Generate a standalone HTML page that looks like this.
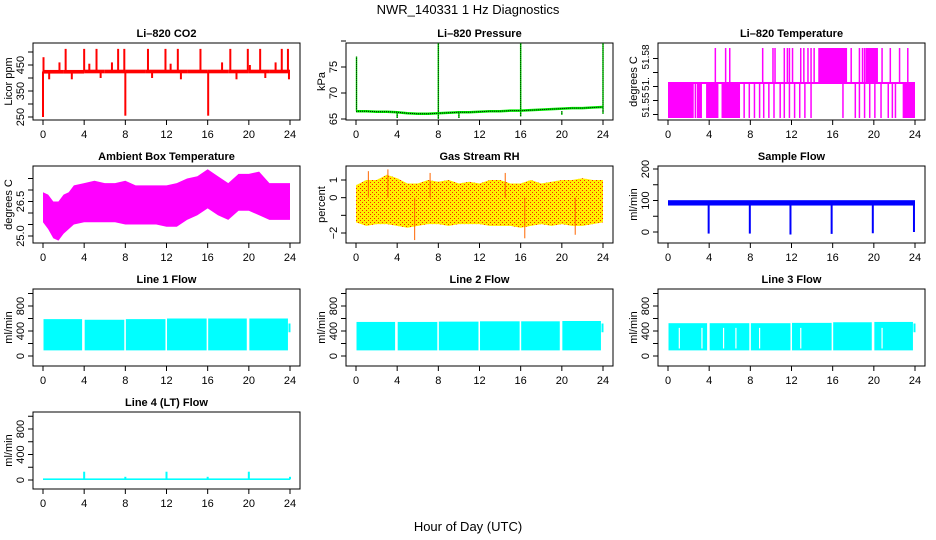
<!DOCTYPE html>
<html><head><meta charset="utf-8">
<style>
html,body{margin:0;padding:0;background:#fff;}
svg{display:block;font-family:"Liberation Sans",sans-serif;}
</style></head>
<body>
<svg id="chart" width="936" height="540" viewBox="0 0 936 540" xmlns="http://www.w3.org/2000/svg">
<defs>
<pattern id="rhdots" width="4" height="4" patternUnits="userSpaceOnUse">
<rect x="0" y="0" width="1" height="1" fill="#ff2200"/><rect x="2" y="2" width="1" height="1" fill="#ff2200"/>
</pattern>
</defs>
<text x="468" y="14" text-anchor="middle" font-size="13">NWR_140331 1 Hz Diagnostics</text>
<text x="468" y="531" text-anchor="middle" font-size="13">Hour of Day (UTC)</text>
</svg>
<script>
// ---------- data ----------
const xTicks = [0,4,8,12,16,20,24];
// CO2
const co2BaseLo = [417,417,418,418,418,418,418,418,418,418,418,418,418];
const co2BaseHi = [431,431,432,432,432,432,432,432,432,432,432,432,432];
const co2SpikeHours = [0.05,0.0,2.2,4.0,5.2,7.3,7.9,10.2,11.9,13.1,15.3,18.2,19.9,21.1,23.2,23.8,8.0,16.05,1.6,4.5,6.7,12.4,17.4,20.1,22.6,0.6,2.8,5.6,10.6,13.4,18.8,21.6,23.9];
const co2SpikeVals  = [480,250,512,512,512,512,512,512,512,512,512,512,512,512,512,512,255,255,460,455,460,455,460,450,460,395,395,400,400,395,395,400,395];
// Pressure
const pressHours = [0,0.05,1,2,3,4,4.5,5,6,7,8,9,10,11,12,13,14,15,16,17,18,19,20,21,22,23,24];
const pressVals  = [66.5,66.5,66.5,66.4,66.4,66.3,66.2,66.1,66.0,66.0,66.1,66.2,66.3,66.3,66.4,66.5,66.5,66.6,66.6,66.7,66.8,66.9,67.0,67.1,67.1,67.2,67.3];
const pressSpikeHours = [0.05,8.0,16.0,24.0,4.0,8.0,10.0,16.0,20.0,24.0];
const pressSpikeVals  = [77,80,80.5,81,65.2,65.0,65.2,65.5,65.8,66.0];
// Li-820 temperature
const tempLevels = [51.5375,51.5625,51.5875];
const tempLowIntervals = [[0,2.5],[2.8,3.3],[3.7,4.9],[5.2,7.0],[22.8,24]];
const tempLowLines = [2.66,7.4,7.9,8.4,8.9,9.3,9.8,10.3,10.9,11.3,11.8,12.3,12.8,13.3,13.9,17.0,18.2,18.6,19.1,19.6,20.1,20.7,21.4,21.8,22.1];
const tempHighIntervals = [[14.6,17.4],[19.2,20.4]];
const tempHighLines = [4.6,5.6,6.0,9.2,10.2,10.4,11.3,11.6,11.8,12.1,12.9,13.2,13.6,13.9,14.2,17.8,18.6,18.9,19.1,20.8,21.6,22.5,23.3];
// Ambient box temperature (hourly envelope)
const ambHours = [0,0.5,1,1.5,2,2.5,3,4,5,6,7,8,9,10,11,12,13,14,15,16,17,18,19,20,21,22,23,24];
const ambHi = [26.9,26.8,26.5,26.5,26.8,26.9,27.2,27.3,27.4,27.3,27.3,27.4,27.2,27.2,27.2,27.2,27.3,27.5,27.6,27.9,27.6,27.3,27.7,27.7,27.8,27.3,27.3,27.3];
const ambLo = [25.6,25.3,24.9,24.8,25.1,25.3,25.5,25.6,25.6,25.6,25.6,25.5,25.5,25.5,25.5,25.4,25.4,25.7,25.9,26.2,25.9,25.7,26.1,26.1,25.9,25.7,25.7,25.7];
// Gas stream RH (hourly envelope)
const rhHours = [0,1,2,3,4,5,6,7,8,9,10,11,12,13,14,15,16,17,18,19,20,21,22,23,24];
const rhHi = [0.7,1.0,1.0,1.3,1.1,0.8,0.8,1.0,0.9,1.0,0.8,0.9,0.8,1.0,1.0,0.8,0.8,1.0,0.8,0.9,1.0,1.0,1.1,1.0,1.0];
const rhLo = [-1.4,-1.6,-1.5,-1.5,-1.6,-1.7,-1.6,-1.5,-1.5,-1.6,-1.5,-1.5,-1.5,-1.6,-1.6,-1.6,-1.7,-1.6,-1.5,-1.6,-1.5,-1.6,-1.6,-1.5,-1.4];
const rhSpikeHours = [1.2,3.1,5.7,7.2,14.5,16.4,21.3];
const rhSpikeVals = [1.5,1.6,-2.4,1.4,1.4,-2.3,-2.1];
// Sample flow
const sampleLo = 84, sampleHi = 101;
const sampleDropHours = [3.95,7.95,11.9,15.9,19.9,23.9];
const sampleDropVals = [-5,-5,-8,-6,-4,0];
// Line flows (4-hour blocks)
const blockStarts = [0,4,8,12,16,20];
const blockEnds   = [3.8,7.9,11.9,15.9,19.8,23.8];
const line1Hi = [590,580,590,600,600,600];
const line2Hi = [545,545,550,555,555,560];
const line3Hi = [525,525,525,530,540,545];
const linesLo = [90,90,90,90,90,90];
const line3Gaps = [1.1,3.3,5.4,6.6,8.9,12.9,20.8];
const line4Base = [0,25];
const line4SpikeHours = [4.0,8.0,12.0,16.0,20.0,24.0];
const line4SpikeVals = [130,50,130,50,130,50];

// ---------- helpers ----------
const NS = "http://www.w3.org/2000/svg";
const svg = document.getElementById('chart');
function mk(tag, attrs, parent){
  const e = document.createElementNS(NS, tag);
  for (const k in attrs) e.setAttribute(k, attrs[k]);
  (parent||svg).appendChild(e);
  return e;
}
const COLS=[33,346,658], ROWS=[43,166,289,412], W=267, H=77;
let clipN=0;
function panel(c,r,key,title,ylab,a,pa,b,pb,ticks,labels,lfs){
  const L=COLS[c], T=ROWS[r];
  const sx = h => L+10 + h/24*247;
  const sy = v => T + pa + (v-a)*(pb-pa)/(b-a);
  const g = mk('g',{});
  
  
  const cid='clip'+(clipN++);
  const cp = mk('clipPath',{id:cid},g);
  mk('rect',{x:L,y:T,width:W,height:H},cp);
  const plot = mk('g',{'clip-path':'url(#'+cid+')'},g);
  
  
  const t = mk('text',{x:L+W/2,y:T-6,'text-anchor':'middle','font-size':11,'font-weight':'bold'},g);
  t.textContent = title;
  
  
  const yl = mk('text',{x:L-21,y:T+H/2,'text-anchor':'middle','font-size':11,transform:'rotate(-90 '+(L-21)+' '+(T+H/2)+')'},g);
  yl.textContent = ylab;
  
  
  xTicks.forEach(h=>{
    const tk = mk('line',{x1:sx(h),x2:sx(h),y1:T+H,y2:T+H+5,stroke:'#000'},g);
    
    
    const lb = mk('text',{x:sx(h),y:T+H+18,'text-anchor':'middle','font-size':11},g);
    lb.textContent = h;
    
    
  });
  ticks.forEach(v=>{
    const tk = mk('line',{x1:L-5,x2:L,y1:sy(v),y2:sy(v),stroke:'#000'},g);
    
    
  });
  labels.forEach(lab=>{
    const v = lab[0], txt = lab[1];
    const py = lab.length>2 ? lab[2] : sy(v);
    const lb = mk('text',{x:L-9,y:py,'text-anchor':'middle','font-size':lfs||11,transform:'rotate(-90 '+(L-9)+' '+py+')'},g);
    lb.textContent = txt;
    
    
  });
  const box = mk('rect',{x:L,y:T,width:W,height:H,fill:'none',stroke:'#000'},g);
  
  
  return {sx,sy,plot,L,T};
}
function vline(p,x,y1,y2,color,w,name){
  const e = mk('line',{x1:x,x2:x,y1:y1,y2:y2,stroke:color,'stroke-width':w},p);
  
  
  return e;
}
function band(p,x1,x2,y1,y2,color,name){
  const e = mk('rect',{x:Math.min(x1,x2),y:Math.min(y1,y2),width:Math.abs(x2-x1),height:Math.max(1,Math.abs(y2-y1)),fill:color},p);
  
  
  return e;
}
function env(p,sx,sy,hs,hi,lo,fill,name){
  let d='M'+hs.map((h,i)=>sx(h)+','+sy(hi[i])).join(' L');
  for(let i=hs.length-1;i>=0;i--) d+=' L'+sx(hs[i])+','+sy(lo[i]);
  const e = mk('path',{d:d+'Z',fill:fill},p);
  
  
  return e;
}

// ---------- CO2 ----------
(function(){
  const P = panel(0,0,'co2','Li\u2013820 CO2','Licor ppm',250,74,450,22,[250,300,350,400,450,500],[[250,'250'],[350,'350'],[450,'450']]);
  co2BaseLo.forEach((lo,i)=>{ if(i<12) band(P.plot,P.sx(i*2),P.sx(i*2+2),P.sy(co2BaseHi[i]),P.sy(lo),'#ff0000','co2-baseline'); });
  co2SpikeHours.forEach((h,i)=>vline(P.plot,P.sx(h),P.sy(425),P.sy(co2SpikeVals[i]),'#ff0000',2,'co2-spike'));
})();
// ---------- Pressure ----------
(function(){
  const P = panel(1,0,'pressure','Li\u2013820 Pressure','kPa',65,76,75,24,[65,70,75,80],[[65,'65'],[70,'70'],[75,'75']]);
  pressSpikeHours.forEach((h,i)=>{
    vline(P.plot,P.sx(h),P.sy(66.5),P.sy(pressSpikeVals[i]),'#00ee00',1.5,'pressure-spike');
    const e=vline(P.plot,P.sx(h),P.sy(66.5),P.sy(pressSpikeVals[i]),'#000',1,'pressure-spike-dots');
    e.setAttribute('stroke-dasharray','1,1');
  });
  const pts = pressHours.map((h,i)=>P.sx(h)+','+P.sy(pressVals[i])).join(' ');
  const l1 = mk('polyline',{points:pts,fill:'none',stroke:'#00ee00','stroke-width':2.5},P.plot);
  
  
  const l2 = mk('polyline',{points:pts,fill:'none',stroke:'#000','stroke-width':1,'stroke-dasharray':'1,1'},P.plot);
  
  
})();
// ---------- Li-820 temperature ----------
(function(){
  const P = panel(2,0,'li820-temp','Li\u2013820 Temperature','degrees C',51.5375,75,51.5875,5,[51.54,51.55,51.56,51.57,51.58],[[0,'51.55',105],[0,'51.',84],[0,'51.58',57]],10);
  const lo=P.sy(tempLevels[0]), mid=P.sy(tempLevels[1]), hi=P.sy(tempLevels[2]);
  band(P.plot,P.sx(0),P.sx(24),mid-1,mid+1,'#ff00ff','temp-mid-level');
  tempLowIntervals.forEach(iv=>band(P.plot,P.sx(iv[0]),P.sx(iv[1]),mid,lo,'#ff00ff','temp-low-block'));
  tempLowLines.forEach(h=>vline(P.plot,P.sx(h),mid,lo,'#ff00ff',1.5,'temp-low-line'));
  tempHighIntervals.forEach(iv=>band(P.plot,P.sx(iv[0]),P.sx(iv[1]),hi,mid,'#ff00ff','temp-high-block'));
  tempHighLines.forEach(h=>vline(P.plot,P.sx(h),hi,mid,'#ff00ff',1.5,'temp-high-line'));
})();
// ---------- Ambient ----------
(function(){
  const P = panel(0,1,'ambient','Ambient Box Temperature','degrees C',25.0,70,26.5,35.5,[25.0,25.5,26.0,26.5,27.0,27.5],[[25.0,'25.0'],[26.5,'26.5']]);
  env(P.plot,P.sx,P.sy,ambHours,ambHi,ambLo,'#ff00ff','ambient-envelope');
})();
// ---------- RH ----------
(function(){
  const P = panel(1,1,'rh','Gas Stream RH','percent',1,14,-2,67,[-2,-1,0,1],[[-2,'\u22122'],[0,'0'],[1,'1']]);
  env(P.plot,P.sx,P.sy,rhHours,rhHi,rhLo,'#ffee00','rh-envelope');
  env(P.plot,P.sx,P.sy,rhHours,rhHi,rhLo,'url(#rhdots)','rh-dots');
  rhSpikeHours.forEach((h,i)=>vline(P.plot,P.sx(h),P.sy(0),P.sy(rhSpikeVals[i]),'#ff6600',1,'rh-spike'));
})();
// ---------- Sample flow ----------
(function(){
  const P = panel(2,1,'sample-flow','Sample Flow','ml/min',0,66,200,3,[0,50,100,150,200],[[0,'0'],[100,'100'],[200,'200']]);
  band(P.plot,P.sx(0),P.sx(24),P.sy(sampleHi),P.sy(sampleLo),'#0000ff','sample-baseline');
  sampleDropHours.forEach((h,i)=>vline(P.plot,P.sx(h),P.sy(95),P.sy(sampleDropVals[i]),'#0000ff',2,'sample-drop'));
})();
// ---------- Line flows ----------
function linePanel(c,r,key,title,his,gaps){
  const P = panel(c,r,key,title,'ml/min',0,67,800,17,[0,200,400,600,800,1000],[[0,'0'],[400,'400'],[800,'800']]);
  blockStarts.forEach((s,i)=>band(P.plot,P.sx(s+0.05),P.sx(blockEnds[i]),P.sy(his[i]),P.sy(linesLo[i]),'#00ffff',key+'-block'));
  gaps.forEach(h=>vline(P.plot,P.sx(h),P.sy(450),P.sy(120),'#fff',1.2,key+'-gap'));
  vline(P.plot,P.sx(23.95),P.sy(380),P.sy(520),'#00ffff',2,key+'-tail');
  return P;
}
linePanel(0,2,'line1','Line 1 Flow',line1Hi,[]);
linePanel(1,2,'line2','Line 2 Flow',line2Hi,[]);
linePanel(2,2,'line3','Line 3 Flow',line3Hi,line3Gaps);
(function(){
  const P = panel(0,3,'line4','Line 4 (LT) Flow','ml/min',0,68,800,17,[0,200,400,600,800,1000],[[0,'0'],[400,'400'],[800,'800']]);
  band(P.plot,P.sx(0),P.sx(24),P.sy(line4Base[1]),P.sy(line4Base[0]),'#00ffff','line4-baseline');
  line4SpikeHours.forEach((h,i)=>vline(P.plot,P.sx(h),P.sy(10),P.sy(line4SpikeVals[i]),'#00ffff',2,'line4-spike'));
})();
</script>
</body></html>
